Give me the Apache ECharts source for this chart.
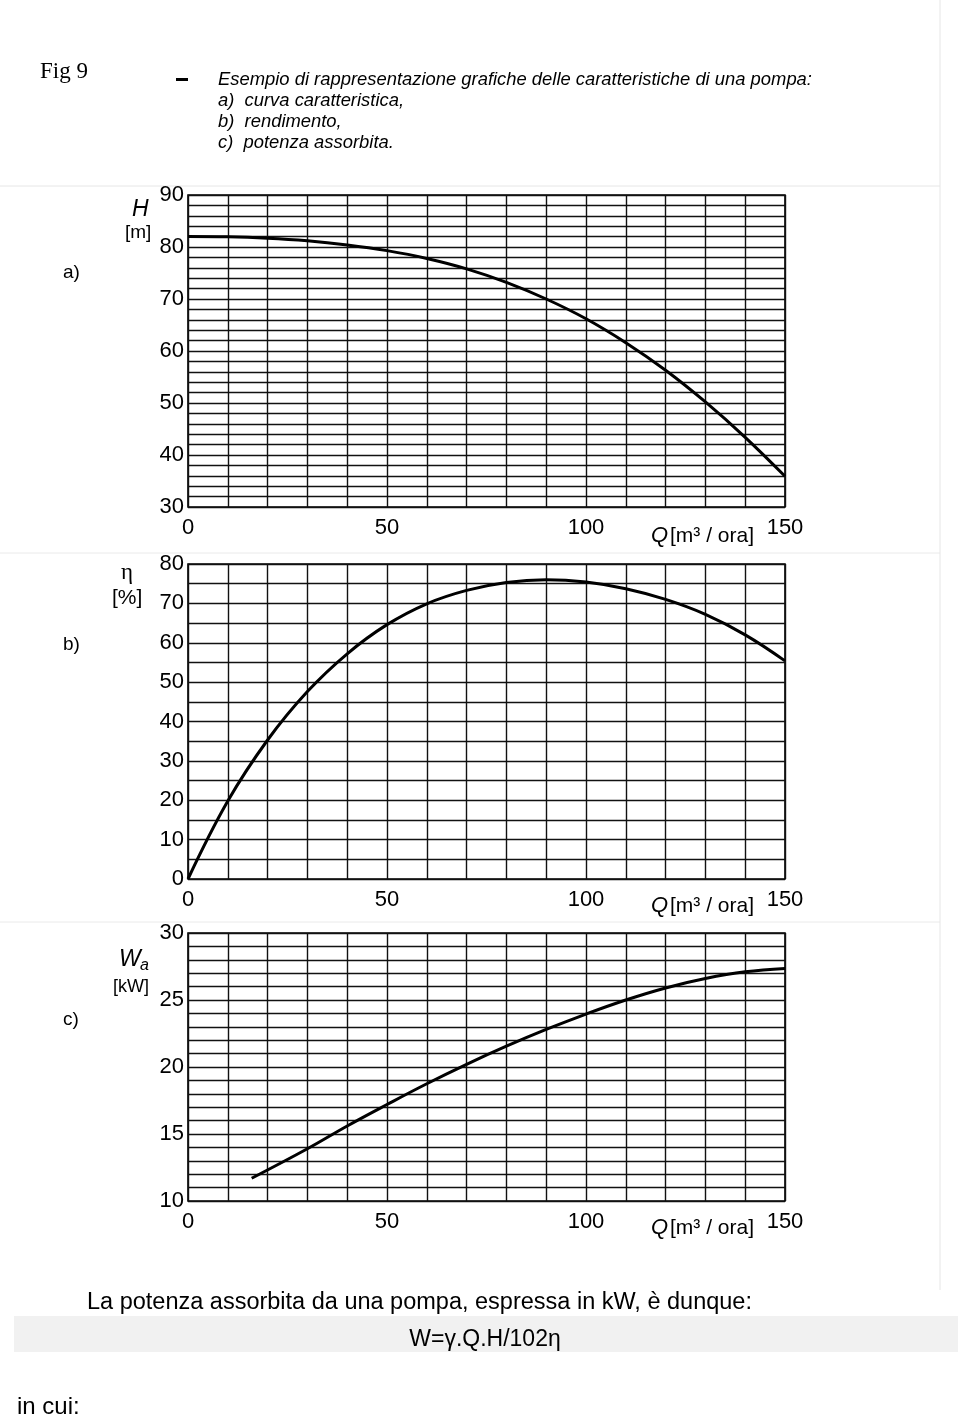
<!DOCTYPE html>
<html>
<head>
<meta charset="utf-8">
<script src="https://cdn.jsdelivr.net/npm/echarts@6/dist/echarts.min.js"></script>
<style>
html,body{margin:0;padding:0;background:#fff;}
#main{width:960px;height:1418px;}
</style>
</head>
<body>
<div id="main"></div>
<script>
// ---- data ----
const qHead = [0,10,20,30,40,50,60,70,80,90,100,110,120,130,140,150];
const headH = [82.0,81.95,81.7,81.2,80.4,79.3,77.8,75.8,73.2,70.0,66.2,61.6,56.3,50.2,43.4,35.9];

const qEta = [0,10,20,30,40,50,60,70,80,90,100,110,120,130,140,150];
const etaPct = [0,19.8,35.3,47.6,57.2,64.6,69.9,73.3,75.3,76.0,75.4,73.7,71.0,67.2,62.0,55.4];

const qPow = [16,30,40,50,60,70,80,90,100,110,120,130,140,150];
const powKW = [11.7,13.9,15.6,17.2,18.75,20.2,21.55,22.8,23.95,25.0,25.9,26.6,27.1,27.35];

const xTicksShown = [0,50,100,150];
const yTicksA = [30,40,50,60,70,80,90];
const yTicksB = [0,10,20,30,40,50,60,70,80];
const yTicksC = [10,15,20,25,30];

// ---- layout ----
const FONT = 'Liberation Sans, Arial, sans-serif';
const gridStyle = {color:'#111', width:1.4};
const grids = [
  {left:188, width:597, top:195, height:312},
  {left:188, width:597, top:564, height:315},
  {left:188, width:597, top:933, height:268}
];
function xAxis(i){
  return {
    type:'value', gridIndex:i, min:0, max:150, interval:10,
    axisLine:{show:false}, axisTick:{show:false},
    splitLine:{show:true, lineStyle:gridStyle},
    axisLabel:{
      margin:10, fontSize:22, color:'#000', fontFamily:FONT,
      formatter:v => xTicksShown.indexOf(v) >= 0 ? String(v) : ''
    }
  };
}
function yAxis(i, min, max, step, shown){
  return {
    type:'value', gridIndex:i, min:min, max:max, interval:step,
    axisLine:{show:false}, axisTick:{show:false},
    splitLine:{show:true, lineStyle:gridStyle},
    axisLabel:{
      margin:4, fontSize:22, color:'#000', fontFamily:FONT,
      formatter:v => shown.indexOf(v) >= 0 ? String(v) : ''
    }
  };
}
function pairs(xs, ys){ return xs.map((x,k)=>[x, ys[k]]); }
function lineSeries(i, data){
  return {
    type:'line', xAxisIndex:i, yAxisIndex:i, data:data,
    smooth:0.4, showSymbol:false, symbol:'none',
    lineStyle:{color:'#000', width:3}, z:5
  };
}

function txt(x, y, text, opts){
  return {
    type:'text', x:x, y:y,
    style:Object.assign({text:text, fill:'#000', font:'20px ' + FONT, textVerticalAlign:'middle'}, opts||{})
  };
}
function qLabel(y){
  return [
    txt(651, y, 'Q', {font:'italic 22px ' + FONT}),
    txt(670, y, '[m³ / ora]', {font:'21px ' + FONT})
  ];
}

const graphics = [
  // faint scan frame lines
  {type:'line', shape:{x1:0,y1:186,x2:940,y2:186}, style:{stroke:'#e6e6e6', lineWidth:1}},
  {type:'line', shape:{x1:0,y1:553,x2:940,y2:553}, style:{stroke:'#eaeaea', lineWidth:1}},
  {type:'line', shape:{x1:0,y1:922,x2:940,y2:922}, style:{stroke:'#eaeaea', lineWidth:1}},
  {type:'line', shape:{x1:940,y1:0,x2:940,y2:1290}, style:{stroke:'#e6e6e6', lineWidth:1}},
  // header
  txt(40, 72, 'Fig 9', {font:'23px Liberation Serif, Times New Roman, serif'}),
  {type:'rect', shape:{x:176, y:78, width:12, height:3}, style:{fill:'#000'}},
  txt(218, 80, 'Esempio di rappresentazione grafiche delle caratteristiche di una pompa:', {font:'italic 18.4px ' + FONT}),
  txt(218, 101, 'a)  curva caratteristica,', {font:'italic 18.4px ' + FONT}),
  txt(218, 122, 'b)  rendimento,', {font:'italic 18.4px ' + FONT}),
  txt(218, 143, 'c)  potenza assorbita.', {font:'italic 18.4px ' + FONT}),
  // panel a
  txt(63, 273, 'a)', {font:'19px ' + FONT}),
  txt(132, 210, 'H', {font:'italic 23px ' + FONT}),
  txt(125, 233, '[m]', {font:'19px ' + FONT}),
  // panel b
  txt(121, 573, 'η', {font:'23px Liberation Serif, Times New Roman, serif'}),
  txt(112, 598, '[%]', {font:'21px ' + FONT}),
  txt(63, 645, 'b)', {font:'19px ' + FONT}),
  // panel c
  txt(119, 960, 'W', {font:'italic 23px ' + FONT}),
  txt(140, 966, 'a', {font:'italic 16px ' + FONT}),
  txt(113, 987, '[kW]', {font:'18px ' + FONT}),
  txt(63, 1020, 'c)', {font:'19px ' + FONT}),
  // footer
  txt(87, 1303, 'La potenza assorbita da una pompa, espressa in kW, è dunque:', {font:'23.5px ' + FONT}),
  {type:'rect', shape:{x:14, y:1316, width:944, height:36}, style:{fill:'#f1f1f1'}, z:-1},
  txt(485, 1340, 'W=γ.Q.H/102η', {font:'23px ' + FONT, textAlign:'center'}),
  txt(17, 1407, 'in cui:', {font:'24px ' + FONT})
].concat(qLabel(536), qLabel(906), qLabel(1228));

const option = {
  backgroundColor:'#fff',
  animation:false,
  grid: grids.map(g => Object.assign({show:true, borderColor:'#000', borderWidth:1.6, backgroundColor:'transparent'}, g)),
  xAxis:[xAxis(0), xAxis(1), xAxis(2)],
  yAxis:[
    yAxis(0, 30, 90, 2, yTicksA),
    yAxis(1, 0, 80, 5, yTicksB),
    yAxis(2, 10, 30, 1, yTicksC)
  ],
  series:[
    lineSeries(0, pairs(qHead, headH)),
    lineSeries(1, pairs(qEta, etaPct)),
    lineSeries(2, pairs(qPow, powKW))
  ],
  graphic: graphics
};

const chart = echarts.init(document.getElementById('main'), null, {renderer:'canvas'});
chart.setOption(option);
</script>
</body>
</html>
